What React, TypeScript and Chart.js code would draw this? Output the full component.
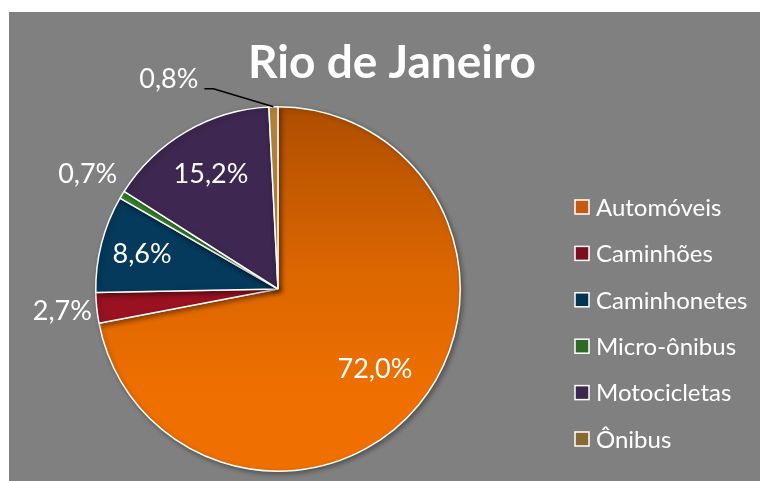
import { useEffect, useRef } from "react";
import { Chart, registerables } from "chart.js";
Chart.register(...registerables);

const chartTitle = "Rio de Janeiro";
const categories = ["Automóveis", "Caminhões", "Caminhonetes", "Micro-ônibus", "Motocicletas", "Ônibus"];
const shares = [72.0, 2.7, 8.6, 0.7, 15.2, 0.8];
const sliceColors = ["#E86A00", "#9A1221", "#053A5C", "#3A8C2F", "#3E2851", "#B98B40"];
const legendColors = ["#C55A11", "#7B0F1D", "#043452", "#2F6A25", "#3B2850", "#8C6831"];
const autoGradientStops = ["#AE4E00", "#DC6600", "#EF7000"];

const FONT = "Lato, 'Open Sans', sans-serif";
const BG = "#808080";

// label placement style per slice (index-aligned)
const labelPlacement = [
  { mode: "in", f: 0.69 },
  { mode: "out", f: 1.19 },
  { mode: "in", f: 0.77 },
  { mode: "out", f: 1.22 },
  { mode: "in", f: 0.73 },
  { mode: "leader", f: 1 },
];

const fmt = (v: number) => v.toFixed(1).replace(".", ",") + "%";

const decorPlugin = {
  id: "decor",
  beforeDraw(chart: any) {
    const { ctx, width, height } = chart;
    ctx.save();
    ctx.fillStyle = BG;
    ctx.fillRect(0, 0, width, height);
    ctx.restore();
  },
  beforeDatasetsDraw(chart: any) {
    const ctx = chart.ctx;
    ctx.save();
    ctx.shadowColor = "rgba(0,0,0,0.35)";
    ctx.shadowBlur = 5;
    ctx.shadowOffsetX = 2;
    ctx.shadowOffsetY = 2;
  },
  afterDatasetsDraw(chart: any) {
    chart.ctx.restore();
  },
  afterDraw(chart: any) {
    const { ctx } = chart;
    ctx.save();
    // title
    ctx.fillStyle = "#FFFFFF";
    ctx.font = `bold 46px ${FONT}`;
    ctx.textAlign = "center";
    ctx.textBaseline = "alphabetic";
    ctx.fillText(chartTitle, 383, 66);

    // data labels
    const meta = chart.getDatasetMeta(0);
    const values = chart.data.datasets[0].data as number[];
    ctx.font = `27px ${FONT}`;
    ctx.textBaseline = "middle";
    meta.data.forEach((arc: any, i: number) => {
      const p = arc.getProps(["x", "y", "startAngle", "endAngle", "outerRadius"], true);
      const mid = (p.startAngle + p.endAngle) / 2;
      const place = labelPlacement[i];
      const text = fmt(values[i]);
      ctx.fillStyle = "#FFFFFF";
      if (place.mode === "leader") {
        const ex = p.x + Math.cos(mid) * p.outerRadius;
        const ey = p.y + Math.sin(mid) * p.outerRadius;
        const bx = ex - 60;
        const by = ey - 18;
        ctx.strokeStyle = "#000000";
        ctx.lineWidth = 1.5;
        ctx.beginPath();
        ctx.moveTo(ex, ey);
        ctx.lineTo(bx, by);
        ctx.lineTo(bx - 9, by);
        ctx.stroke();
        ctx.textAlign = "right";
        ctx.fillText(text, bx - 15, by - 10);
      } else {
        const r = p.outerRadius * place.f;
        ctx.textAlign = "center";
        ctx.fillText(text, p.x + Math.cos(mid) * r, p.y + Math.sin(mid) * r);
      }
    });

    // legend
    const labels = chart.data.labels as string[];
    ctx.font = `24px ${FONT}`;
    ctx.textAlign = "left";
    ctx.textBaseline = "middle";
    labels.forEach((lab, i) => {
      const cy = 195 + i * 46.4;
      ctx.fillStyle = legendColors[i];
      ctx.fillRect(566, cy - 7, 14, 14);
      ctx.strokeStyle = "#FFFFFF";
      ctx.lineWidth = 1.5;
      ctx.strokeRect(566, cy - 7, 14, 14);
      ctx.fillStyle = "#FFFFFF";
      ctx.fillText(lab, 587, cy + 1);
    });
    ctx.restore();
  },
};

export default function App() {
  const ref = useRef<HTMLCanvasElement>(null);
  useEffect(() => {
    if (!ref.current) return;
    const chart = new Chart(ref.current, {
      type: "pie",
      data: {
        labels: categories,
        datasets: [
          {
            data: shares,
            backgroundColor: (c: any) => {
              const i = c.dataIndex;
              if (i === 0) {
                const area = c.chart.chartArea;
                if (!area) return sliceColors[0];
                const g = c.chart.ctx.createLinearGradient(0, area.top, 0, area.bottom);
                g.addColorStop(0, autoGradientStops[0]);
                g.addColorStop(0.45, autoGradientStops[1]);
                g.addColorStop(0.8, autoGradientStops[2]);
                return g;
              }
              return sliceColors[i];
            },
            borderColor: "#FFFFFF",
            borderWidth: 1.5,
          },
        ],
      },
      options: {
        responsive: false,
        animation: false,
        layout: { padding: { left: 86, top: 94, right: 299, bottom: 9 } },
        plugins: {
          legend: { display: false },
          title: { display: false },
          tooltip: { enabled: false },
        },
      },
      plugins: [decorPlugin],
    });
    return () => chart.destroy();
  }, []);
  return (
    <div style={{ position: "absolute", left: 9, top: 12, width: 751, height: 469 }}>
      <canvas ref={ref} width={751} height={469} style={{ display: "block" }} />
    </div>
  );
}
